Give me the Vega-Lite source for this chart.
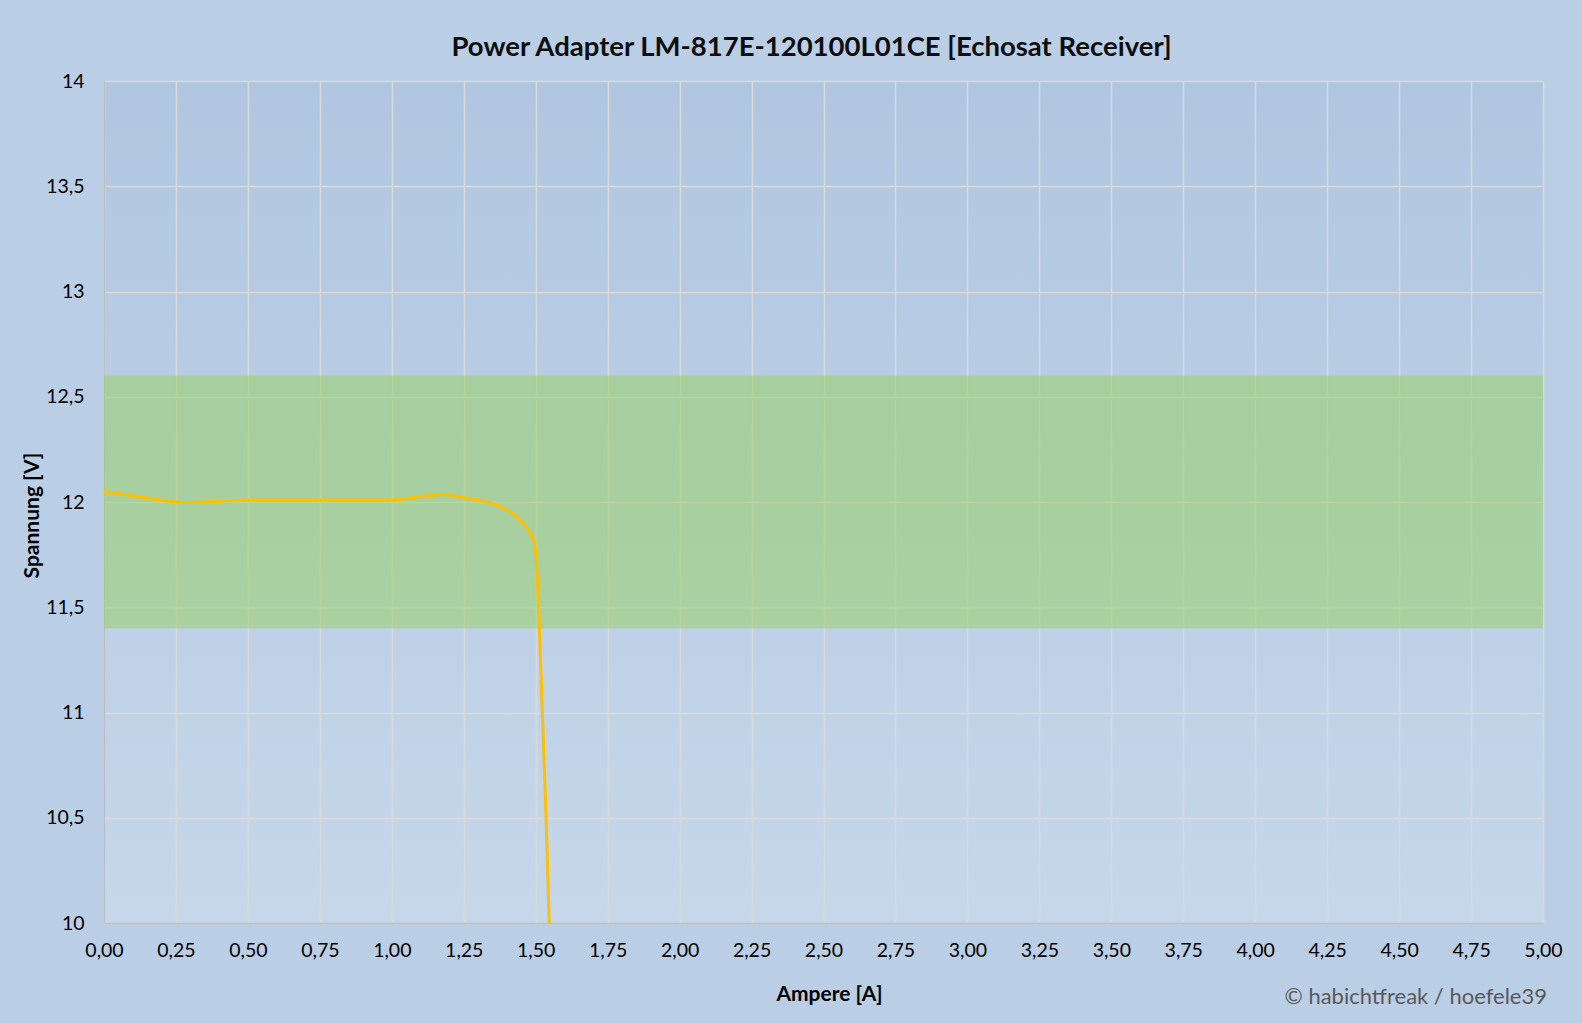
{
  "$schema": "https://vega.github.io/schema/vega-lite/v6.json",
  "width": 1439,
  "height": 842,
  "autosize": {"type": "none"},
  "padding": {"left": 104, "top": 81, "right": 39, "bottom": 100},
  "background": "#BACEE6",
  "title": {
    "text": "Power Adapter LM-817E-120100L01CE [Echosat Receiver]",
    "font": "Lato",
    "fontSize": 27.5,
    "fontWeight": "bold",
    "color": "#0D0D0D",
    "anchor": "middle",
    "offset": 10,
    "dx": -12
  },
  "datasets": {
    "curve": [
      {"A": 0.0, "V": 12.05},
      {"A": 0.1, "V": 12.03},
      {"A": 0.2, "V": 12.008},
      {"A": 0.28, "V": 11.998},
      {"A": 0.4, "V": 12.004},
      {"A": 0.5, "V": 12.01},
      {"A": 0.75, "V": 12.01},
      {"A": 1.0, "V": 12.01},
      {"A": 1.1, "V": 12.026},
      {"A": 1.18, "V": 12.036},
      {"A": 1.25, "V": 12.02},
      {"A": 1.376, "V": 11.978},
      {"A": 1.445, "V": 11.915},
      {"A": 1.48, "V": 11.85},
      {"A": 1.4976, "V": 11.79},
      {"A": 1.51, "V": 11.5},
      {"A": 1.523, "V": 11.0},
      {"A": 1.536, "V": 10.5},
      {"A": 1.547, "V": 10.0}
    ],
    "band": [{"lo": 11.4, "hi": 12.6}],
    "credit": [{"text": "© habichtfreak / hoefele39"}]
  },
  "layer": [
    {
      "data": {"name": "band"},
      "mark": {"type": "rect", "color": "#92D050", "opacity": 0.47},
      "encoding": {
        "y": {"field": "lo", "type": "quantitative"},
        "y2": {"field": "hi"}
      }
    },
    {
      "data": {"name": "curve"},
      "mark": {"type": "line", "color": "#FFC000", "strokeWidth": 3, "interpolate": "monotone"},
      "encoding": {
        "x": {
          "field": "A",
          "type": "quantitative",
          "scale": {"domain": [0, 5], "nice": false, "zero": false},
          "axis": {
            "title": "Ampere [A]",
            "values": [0, 0.25, 0.5, 0.75, 1, 1.25, 1.5, 1.75, 2, 2.25, 2.5, 2.75, 3, 3.25, 3.5, 3.75, 4, 4.25, 4.5, 4.75, 5],
            "labelExpr": "replace(format(datum.value, '.2f'), '.', ',')",
            "labelFlush": false,
            "labelOverlap": false,
            "titleX": 725,
            "titleY": 71,
            "titleBaseline": "middle"
          }
        },
        "y": {
          "field": "V",
          "type": "quantitative",
          "scale": {"domain": [10, 14], "nice": false, "zero": false},
          "axis": {
            "title": "Spannung [V]",
            "values": [10, 10.5, 11, 11.5, 12, 12.5, 13, 13.5, 14],
            "labelExpr": "replace(toString(datum.value), '.', ',')",
            "labelFlush": false,
            "labelOverlap": false,
            "titleX": -72,
            "titleY": 434,
            "titleAngle": -90,
            "titleBaseline": "middle",
            "titleAlign": "center"
          }
        }
      }
    },
    {
      "data": {"name": "credit"},
      "mark": {"type": "text", "font": "Lato", "fontSize": 22, "color": "#595959", "align": "right", "baseline": "middle", "dx": 4},
      "encoding": {
        "text": {"field": "text"},
        "x": {"datum": 5, "type": "quantitative"},
        "y": {"datum": 9.65, "type": "quantitative"}
      }
    }
  ],
  "config": {
    "view": {
      "stroke": null,
      "fill": {
        "gradient": "linear",
        "x1": 0, "y1": 0, "x2": 0, "y2": 1,
        "stops": [{"offset": 0, "color": "#B0C6E0"}, {"offset": 1, "color": "#C6D7EA"}]
      }
    },
    "axis": {
      "labelFont": "Lato",
      "labelFontSize": 19.5,
      "labelColor": "#000000",
      "titleFont": "Lato",
      "titleFontSize": 21,
      "titleFontWeight": "bold",
      "titleColor": "#000000",
      "gridColor": "#D9D9D9",
      "gridWidth": 1.5,
      "gridOpacity": 1,
      "domainColor": "#BFBFBF",
      "domainWidth": 1.5,
      "ticks": false,
      "labelPadding": 18
    },
    "axisY": {"labelPadding": 20}
  }
}
